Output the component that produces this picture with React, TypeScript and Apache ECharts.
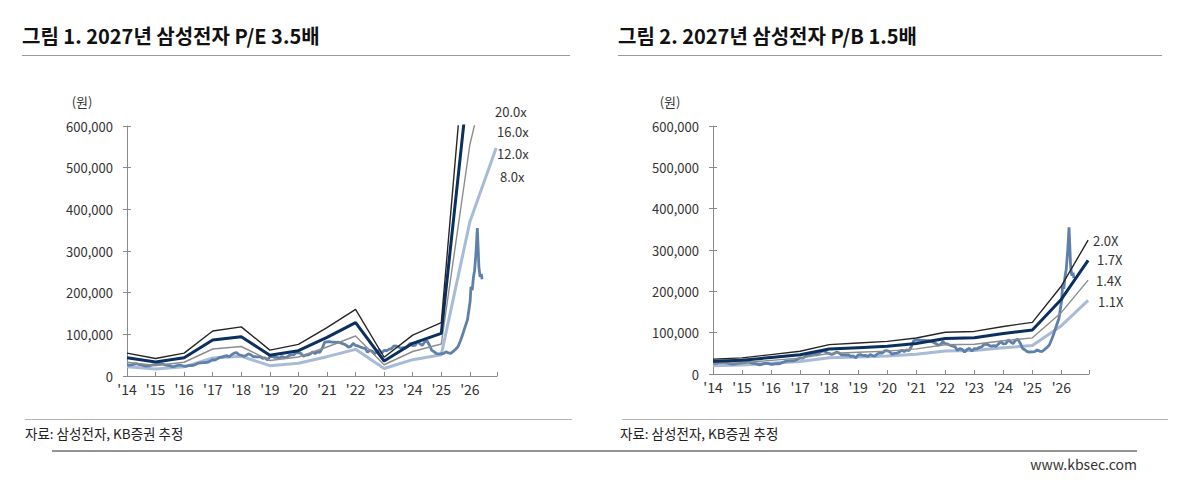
import React, { useEffect, useRef } from "react";
import * as echarts from "echarts";

// ---------- data ----------
const TICK_YEARS = [2014, 2015, 2016, 2017, 2018, 2019, 2020, 2021, 2022, 2023, 2024, 2025, 2026];
// band points: start of each year + end-2026 (2027E)
const BAND_X = [2014, 2015, 2016, 2017, 2018, 2019, 2020, 2021, 2022, 2023, 2024, 2025, 2026, 2026.92];

const PE_20X = [55000, 42000, 55000, 108000, 118000, 62000, 76000, 116000, 160000, 45000, 98000, 128000, 925000, 1368000];
const PE_16X = [44000, 33600, 44000, 86400, 94400, 49600, 60800, 92800, 128000, 36000, 78400, 102400, 740000, 1094000];
const PE_12X = [33000, 25200, 33000, 64800, 70800, 37200, 45600, 69600, 96000, 27000, 58800, 76800, 555000, 821000];
const PE_8X = [22000, 16800, 22000, 43200, 47200, 24800, 30400, 46400, 64000, 18000, 39200, 51200, 370000, 547000];

const PB_20X = [36000, 39000, 47000, 55000, 71000, 75000, 79000, 87000, 101000, 103000, 115000, 125000, 213000, 324000];
const PB_17X = [30600, 33200, 40000, 46800, 60400, 63800, 67200, 74000, 85900, 87600, 97800, 106300, 181000, 275000];
const PB_14X = [25200, 27300, 32900, 38500, 49700, 52500, 55300, 60900, 70700, 72100, 80500, 87500, 149000, 227000];
const PB_11X = [19800, 21500, 25900, 30300, 39100, 41300, 43500, 47900, 55600, 56700, 63300, 68800, 117000, 178000];

const PE_LABELS = ["20.0x", "16.0x", "12.0x", "8.0x"];
const PB_LABELS = ["2.0X", "1.7X", "1.4X", "1.1X"];

// monthly share price (KRW), one value per month
const PRICE_2014 = [26400, 26000, 26600, 28600, 29400, 27500, 26500, 24800, 23800, 24200, 25400, 26600];
const PRICE_2015 = [27000, 27600, 28600, 28800, 26600, 25600, 24600, 22400, 23000, 25200, 26400, 25200];
const PRICE_2016 = [23400, 23600, 25200, 24800, 25800, 28400, 30800, 31600, 32000, 32000, 33200, 36000];
const PRICE_2017 = [39000, 38200, 41600, 44800, 45600, 47600, 48600, 46200, 51400, 55000, 56200, 51000];
const PRICE_2018 = [49800, 47200, 49200, 53000, 51000, 46600, 46200, 46000, 46400, 42400, 43600, 38800];
const PRICE_2019 = [46200, 46900, 44700, 45000, 42600, 47000, 44300, 44000, 48900, 50800, 50800, 55800];
const PRICE_2020 = [56400, 54200, 47800, 50000, 50700, 52800, 57900, 54000, 58200, 56600, 66700, 81000];
const PRICE_2021 = [82000, 82500, 81400, 81500, 80500, 81000, 79000, 76700, 74100, 69500, 71300, 78300];
const PRICE_2022 = [73300, 72100, 69600, 67400, 66500, 57000, 61400, 59400, 53100, 59400, 62200, 55300];
const PRICE_2023 = [61500, 60600, 64000, 65500, 71400, 72200, 69800, 66900, 68400, 66900, 72800, 78500];
const PRICE_2024 = [72700, 73400, 82400, 77500, 73500, 81500, 83900, 74400, 61500, 58100, 53500, 53200];
const PRICE_2025 = [53400, 54300, 58000, 55400, 54400, 59000, 64000, 70000, 84000, 100000, 118000, 135000];
const PRICE_2026_DATES = ["2026-01-05", "2026-01-15", "2026-02-01", "2026-02-15", "2026-03-01", "2026-03-20", "2026-04-05", "2026-04-15", "2026-04-25", "2026-05-10", "2026-05-25", "2026-06-05"];
const PRICE_2026 = [180000, 214000, 206000, 235000, 254000, 300000, 355000, 310000, 262000, 238000, 245000, 232000];

// ---------- helpers ----------
const FONT = '"Noto Sans CJK KR", "Noto Sans", sans-serif';

function dateToYear(s: string): number {
  const [y, m, d] = s.split("-").map(Number);
  return y + (m - 1) / 12 + ((d || 1) - 1) / 365;
}

function buildPrice(): [number, number][] {
  const years: [number, number[]][] = [
    [2014, PRICE_2014], [2015, PRICE_2015], [2016, PRICE_2016], [2017, PRICE_2017],
    [2018, PRICE_2018], [2019, PRICE_2019], [2020, PRICE_2020], [2021, PRICE_2021],
    [2022, PRICE_2022], [2023, PRICE_2023], [2024, PRICE_2024], [2025, PRICE_2025],
  ];
  const out: [number, number][] = [];
  years.forEach(([y, arr]) => arr.forEach((v, i) => out.push([y + i / 12, v])));
  PRICE_2026_DATES.forEach((d, i) => out.push([dateToYear(d), PRICE_2026[i]]));
  return out;
}

function band(vals: number[]): [number, number][] {
  return vals.map((v, i) => [BAND_X[i], v]);
}

const C_BLACK = "#262626";
const C_NAVY = "#0b2f5e";
const C_GRAY = "#8c8c8c";
const C_LIGHT = "#a7bbd7";
const C_PRICE = "#5f80ab";

function seriesFor(idx: number, bands: number[][]) {
  const xi = idx;
  const yi = idx * 2;
  const mk = (data: any, color: string, width: number, z: number) => ({
    type: "line",
    xAxisIndex: xi,
    yAxisIndex: yi,
    data,
    symbol: "none",
    clip: true,
    z,
    lineStyle: { color, width },
    itemStyle: { color },
  });
  return [
    mk(band(bands[3]), C_LIGHT, 3, 2),
    mk(buildPrice(), C_PRICE, 2.8, 3),
    mk(band(bands[2]), C_GRAY, 1.4, 4),
    mk(band(bands[1]), C_NAVY, 3, 5),
    mk(band(bands[0]), C_BLACK, 1.4, 6),
  ];
}

function xAxisFor(gridIndex: number) {
  return {
    type: "value",
    gridIndex,
    min: 2014,
    max: 2026.95,
    interval: 1,
    splitLine: { show: false },
    axisLine: { show: true, lineStyle: { color: "#8a8a8a", width: 1 } },
    axisTick: { show: true, inside: true, length: 4, lineStyle: { color: "#8a8a8a" } },
    axisLabel: {
      color: "#333",
      fontSize: 14,
      fontFamily: FONT,
      margin: 6,
      formatter: (v: number) => (TICK_YEARS.includes(Math.round(v)) ? "'" + String(Math.round(v)).slice(2) : ""),
    },
  };
}

function yAxesFor(gridIndex: number) {
  return [
    {
      type: "value",
      gridIndex,
      min: 0,
      max: 600000,
      interval: 100000,
      splitLine: { show: false },
      axisLine: { show: true, lineStyle: { color: "#8a8a8a", width: 1 } },
      axisTick: { show: true, inside: false, length: 4, lineStyle: { color: "#8a8a8a" } },
      axisLabel: {
        color: "#333",
        fontSize: 13,
        fontFamily: FONT,
        margin: 14,
        formatter: (v: number) => v.toLocaleString("en-US"),
      },
    },
    {
      type: "value",
      gridIndex,
      position: "left",
      min: 0,
      max: 600000,
      interval: 100000,
      splitLine: { show: false },
      axisLine: { show: false },
      axisTick: { show: true, inside: true, length: 4, lineStyle: { color: "#8a8a8a" } },
      axisLabel: { show: false },
    },
  ];
}

function txt(text: string, x: number, y: number, size: number, fill: string, align = "left", weight = "normal") {
  return {
    type: "text",
    x,
    y,
    silent: true,
    style: {
      text,
      fill,
      font: `${weight} ${size}px ${FONT}`,
      textAlign: align,
      align,
      textVerticalAlign: "middle",
      verticalAlign: "middle",
    },
  };
}

function ln(x1: number, y1: number, x2: number, y2: number, stroke: string, lineWidth = 1) {
  return { type: "line", silent: true, shape: { x1, y1, x2, y2 }, style: { stroke, lineWidth } };
}

export default function App() {
  const ref = useRef<HTMLDivElement>(null);
  useEffect(() => {
    document.body.style.margin = "0";
    if (!ref.current) return;
    const chart = echarts.init(ref.current, undefined, { renderer: "svg" });
    const graphic: any[] = [
      txt("그림 1. 2027년 삼성전자 P/E 3.5배", 22, 35, 20, "#111", "left", "bold"),
      ln(22, 55.5, 570, 55.5, "#9a9a9a"),
      txt("그림 2. 2027년 삼성전자 P/B 1.5배", 618, 35, 20, "#111", "left", "bold"),
      ln(618, 55.5, 1162, 55.5, "#9a9a9a"),
      txt("(원)", 82, 101, 13, "#333", "center"),
      txt("(원)", 670, 101, 13, "#333", "center"),
      txt(PE_LABELS[0], 495, 111, 13, "#333"),
      txt(PE_LABELS[1], 497, 131, 13, "#333"),
      txt(PE_LABELS[2], 497, 153, 13, "#333"),
      txt(PE_LABELS[3], 500, 176, 13, "#333"),
      txt(PB_LABELS[0], 1093, 240, 13, "#333"),
      txt(PB_LABELS[1], 1097, 259, 13, "#333"),
      txt(PB_LABELS[2], 1096, 280, 13, "#333"),
      txt(PB_LABELS[3], 1098, 301, 13, "#333"),
      ln(25, 419.5, 572, 419.5, "#b5b5b5"),
      ln(622, 419.5, 1168, 419.5, "#b5b5b5"),
      txt("자료: 삼성전자, KB증권 추정", 25, 433, 13.5, "#222"),
      txt("자료: 삼성전자, KB증권 추정", 620, 433, 13.5, "#222"),
      ln(52, 451, 1137, 451, "#707070", 1.5),
      txt("www.kbsec.com", 1137, 464, 14, "#333", "right"),
    ];
    chart.setOption({
      animation: false,
      backgroundColor: "#ffffff",
      textStyle: { fontFamily: FONT },
      grid: [
        { left: 127, top: 126, width: 370, height: 250 },
        { left: 713, top: 126, width: 376, height: 248 },
      ],
      xAxis: [xAxisFor(0), xAxisFor(1)],
      yAxis: [...yAxesFor(0), ...yAxesFor(1)],
      series: [
        ...seriesFor(0, [PE_20X, PE_16X, PE_12X, PE_8X]),
        ...seriesFor(1, [PB_20X, PB_17X, PB_14X, PB_11X]),
      ],
      graphic,
    });
    return () => chart.dispose();
  }, []);
  return <div ref={ref} style={{ width: 1199, height: 490 }} />;
}
